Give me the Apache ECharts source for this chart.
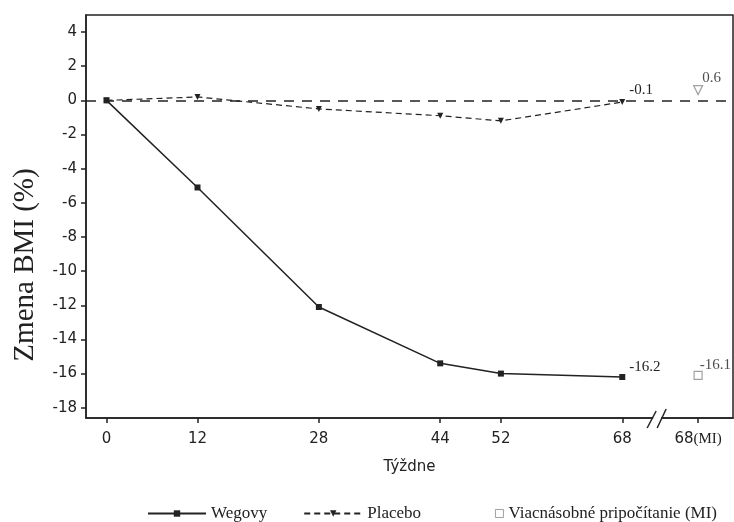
<!DOCTYPE html>
<html>
<head>
<meta charset="utf-8">
<script src="https://cdn.jsdelivr.net/npm/echarts@6/dist/echarts.min.js"></script>
<style>
  html, body { margin: 0; padding: 0; background: #fff; }
  #myChart { width: 734px; height: 522px; }
</style>
</head>
<body>
<div id="myChart"></div>
<script>
// týždne (68(MI) je nakreslené na pozícii 78 za prerušením osi)
const weeks = [0, 12, 28, 44, 52, 68];
const wegovy = [0, -5.1, -12.1, -15.4, -16.0, -16.2];
const placebo = [0, 0.2, -0.5, -0.9, -1.2, -0.1];
const miWeek = 78;
const miWegovy = -16.1;
const miPlacebo = 0.6;
const xTicks = [0, 12, 28, 44, 52, 68, 78];
const yTicks = [-18, -16, -14, -12, -10, -8, -6, -4, -2, 0, 2, 4];
const breakWeek = 72.6;

const sans = "DejaVu Sans";
const serif = "Liberation Serif";
const ink = "#222";
const grey = "#8a8a8a";

let myChart = echarts.init(document.getElementById("myChart"));

function pts(xs, ys) {
  return xs.map((x, i) => [x, ys[i]]);
}

// popisky pri posledných bodoch
function lastLabel(offset) {
  return {
    show: true,
    position: "right",
    distance: 2,
    offset: offset,
    fontFamily: serif,
    fontSize: 15,
    color: ink,
    formatter: (p) => p.value[1].toFixed(1),
  };
}

let wegData = pts(weeks, wegovy);
wegData[wegData.length - 1] = { value: wegData[wegData.length - 1], label: lastLabel([2, -10]) };
let plaData = pts(weeks, placebo);
plaData[plaData.length - 1] = { value: plaData[plaData.length - 1], label: lastLabel([2, -12]) };

const legendText = { fontFamily: serif, fontSize: 17, color: ink };

myChart.setOption({
  animation: false,
  grid: {
    left: 86,
    right: 1,
    top: 15,
    bottom: 104,
    show: true,
    borderColor: ink,
    borderWidth: 1.5,
  },
  legend: [
    {
      data: ["Wegovy", "Placebo"],
      left: 142,
      top: 500,
      itemWidth: 58,
      itemHeight: 8,
      itemGap: 36,
      textStyle: legendText,
    },
    {
      data: ["Viacnásobné pripočítanie (MI)"],
      right: 12,
      top: 500,
      itemWidth: 8,
      itemHeight: 8,
      itemStyle: { borderWidth: 1 },
      textStyle: legendText,
    },
  ],
  xAxis: {
    type: "value",
    min: -2.7,
    max: 82.6,
    name: "Týždne",
    nameLocation: "middle",
    nameGap: 42,
    nameTextStyle: { fontFamily: sans, fontSize: 15, color: ink },
    splitLine: { show: false },
    axisLine: { onZero: false, lineStyle: { color: ink, width: 1.5 } },
    axisTick: { customValues: xTicks, length: 5, lineStyle: { color: ink, width: 1.5 } },
    axisLabel: {
      customValues: xTicks,
      margin: 14,
      fontFamily: sans,
      fontSize: 15,
      color: ink,
      formatter: (v) => (v === miWeek ? "68{s|(MI)}" : String(v)),
      rich: { s: { fontFamily: serif, fontSize: 15, color: ink } },
    },
  },
  yAxis: {
    type: "value",
    min: -18.6,
    max: 5,
    splitLine: { show: false },
    axisLine: { onZero: false, lineStyle: { color: ink, width: 1.5 } },
    axisTick: { customValues: yTicks, length: 5, lineStyle: { color: ink, width: 1.5 } },
    axisLabel: {
      customValues: yTicks,
      margin: 9,
      fontFamily: sans,
      fontSize: 15,
      color: ink,
    },
  },
  series: [
    {
      name: "Wegovy",
      type: "line",
      data: wegData,
      symbol: "rect",
      symbolSize: 6,
      itemStyle: { color: ink },
      lineStyle: { color: ink, width: 1.5 },
      z: 4,
    },
    {
      name: "Placebo",
      type: "line",
      data: plaData,
      symbol: "triangle",
      symbolRotate: 180,
      symbolSize: 6,
      itemStyle: { color: ink },
      lineStyle: { color: ink, width: 1.2, type: [6, 4] },
      markLine: {
        silent: true,
        symbol: "none",
        label: { show: false },
        lineStyle: { color: ink, width: 1.5, type: [10, 8] },
        data: [{ yAxis: 0 }],
      },
      z: 3,
    },
    {
      name: "Viacnásobné pripočítanie (MI)",
      type: "scatter",
      data: [{ value: [miWeek, miWegovy], label: lastLabel([-5, -10]) }],
      symbol: "rect",
      symbolSize: 8,
      itemStyle: { color: "#fff", borderColor: grey, borderWidth: 1.2 },
    },
    {
      name: "Placebo MI",
      type: "scatter",
      data: [{ value: [miWeek, miPlacebo], label: lastLabel([-3, -12]) }],
      symbol: "triangle",
      symbolRotate: 180,
      symbolSize: 9,
      itemStyle: { color: "#fff", borderColor: grey, borderWidth: 1.2 },
    },
  ],
});

// názov osi Y a prerušenie osi X
let b = myChart.convertToPixel({ xAxisIndex: 0, yAxisIndex: 0 }, [breakWeek, -18.6]);
myChart.setOption({
  graphic: [
    {
      type: "text",
      x: 25,
      y: 265,
      rotation: Math.PI / 2,
      style: {
        text: "Zmena BMI (%)",
        fontFamily: serif,
        fontSize: 29,
        fill: ink,
        align: "center",
        verticalAlign: "middle",
      },
    },
    {
      type: "rect",
      shape: { x: b[0] - 4, y: b[1] - 3, width: 8, height: 6 },
      style: { fill: "#fff" },
      z: 100,
    },
    {
      type: "line",
      shape: { x1: b[0] - 10, y1: b[1] + 10, x2: b[0] - 1, y2: b[1] - 7 },
      style: { stroke: ink, lineWidth: 1.5 },
      z: 101,
    },
    {
      type: "line",
      shape: { x1: b[0], y1: b[1] + 10, x2: b[0] + 9, y2: b[1] - 9 },
      style: { stroke: ink, lineWidth: 1.5 },
      z: 101,
    },
  ],
});
</script>
</body>
</html>
